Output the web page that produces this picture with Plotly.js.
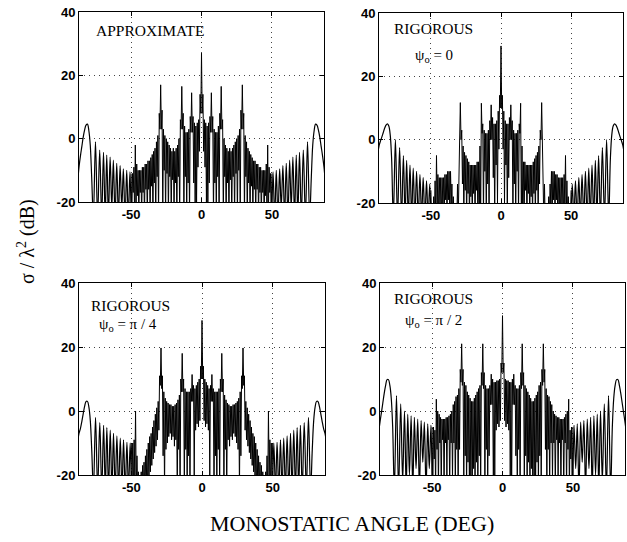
<!DOCTYPE html>
<html><head><meta charset="utf-8">
<script src="https://cdn.plot.ly/plotly-3.0.1.min.js"></script>
<style>html,body{margin:0;padding:0;background:#fff}</style>
</head><body><div id="chart" style="width:627px;height:542px"></div>
<script>
// Positive-half angles (deg) of the dense central region (pattern is symmetric about 0)
const denseAng = [0,0.5,1,1.5,2,2.5,3,3.5,4,4.5, 5,5.5,6,6.5,7,7.5,8,8.5,9,9.5,
  10,10.5,11,11.5,12,12.5,13,13.5,14,14.5, 15,15.5,16,16.5,17,17.5,18,18.5,19,19.5,
  20,20.5,21,21.5,22,22.5,23,23.5,24,24.5, 25,25.5,26,26.5,27,27.5,28,28.5,29,29.5,
  30,30.5,31,31.5,32,32.5,33,33.5,34,34.5, 35,35.5,36,36.5,37,37.5,38,38.5,39,39.5,
  40,40.5,41,41.5,42,42.5,43,43.5,44,44.5, 45,45.5,46,46.5,47,47.5,48,48.5,49,49.5, 50];
// Positive-half angles (deg) of the outer sidelobes
const outerAng = [50.0,50.8,52.0,53.1,54.3,55.5,56.6,57.8,59.0,60.2,61.4,62.6,63.7,64.9,66.1,67.3,68.4,69.6,70.9,72.3,73.8,75.3,76.8,
  78.0,79.0,80.0,81.0,82.0,83.0,84.0,85.0,86.0,87.0,88.0];

// APPROXIMATE
const approxDense = [27,8,14,-4,6,-9,5,-20,4,-25, 5,-14,7,2,14.5,2,7,-25,3,-14,
  2,-25,2,-12,4,-25,8,3,16.5,3, 6,-25,0,-12,-2,-25,-3,-14,-4,-25,
  -3,-13,-4,-25,-3,-12,-2,-25,-1,-11, 0,-25,1,-10,3,-25,9,3,17,3,
  8,-25,1,-12,-1,-25,-3,-14,-4,-25, -5,-15,-6,-25,-7,-16,-7,-25,-8,-16,
  -8,-25,-9,-17,-9,-25,-10,-17,-10,-25, -10,-18,-8,-25,-2,-25,-9,-17,-11,-25, -11];
const approxOuter = [-25,-10.5,-25,-10,-25,-9.5,-22,-8.5,-25,-7.8,-25,-6.8,-22,-5.8,-25,-5.2,-25,-4.3,-25,-3.6,-25,-1,-25,
  -12,-2,2.5,4.6,4.3,2.8,0.5,-2.5,-5.5,-9,-14];

// RIGOROUS psi0 = 0
const rig0Dense = [29.6,10,14,-3,9,-20,6,-8,5,-25, 5,-12,7,0,11,0,6,-25,3,-14,
  2,-25,2,-10,3,-25,5,2,11.5,-25, -2,-25,-7,-25,-7,-16,-8,-25,-8,-17,
  -8,-25,-8,-18,-8,-25,-7,-17,-6,-25, -5,-16,-4,-25,-2,-14,3,0,11.7,0,
  -2,-25,-14,-25,-22,-25,-22,-25,-18,-25, -14,-20,-10,-25,-10,-19,-10,-25,-11,-19,
  -11,-25,-12,-20,-12,-25,-12,-20,-12,-25, -11,-20,-5,-25,-13,-25,-18,-25,-20,-25, -16];
const rig0Outer = [-25,-14,-25,-13,-25,-12,-25,-11,-25,-10,-25,-9,-25,-8,-25,-6.5,-25,-5,-25,-2.5,-25,0,-25,
  -6,1.5,4.3,5,4.6,3.6,2.2,0.8,-0.5,-2,-5];

// RIGOROUS psi0 = pi/4
const rig4Dense = [28.3,10,14,-3,10,-5,9,-4,8,-6, 7,-20,8,3,11.4,3,7,-25,6,-14,
  6,-25,6,-12,7,-25,10,6,18,6, 10,-25,5,-12,3.5,-25,2.5,-9,2,-11,
  1.5,-8,1.5,-9,2,-7,2,-8,2.5,-10, 3,-12,4,-25,6,-14,11,7,19.7,8,
  11,-6,3,-9,1,-11,-1,-13,-3,-15, -5,-17,-7,-19,-8,-22,-10,-25,-12,-25,
  -14,-25,-16,-25,-17,-25,-19,-25,-21,-25, -19,-25,-14,-25,0,-20,-9,-25,-10,-20, -10];
const rig4Outer = [-25,-10,-25,-9.8,-25,-9,-25,-8.5,-25,-7.8,-25,-7,-25,-6,-25,-5.2,-25,-4.5,-25,-3.6,-25,-2,-25,
  -12,-3,1.2,3,3,1.5,-0.8,-3.3,-5.5,-7,-10];

// RIGOROUS psi0 = pi/2
const rig2Dense = [29.8,12,15,-3,10,-5,9.5,-4,9.5,-6, 9,-20,9,-25,10,2,11.5,2,8,-14,
  7,-25,7,-12,8,-25,12,7,21,8, 12,-25,8,-14,7,-25,6,-16,5,-25,
  4,-18,3,-25,3,-20,4,-25,5,-16, 6,-25,8,-14,9,-25,13,8,21,9,
  13,-12,7,-25,5,-12,4.5,-25,3,-10, 2,-22,0,-10,-1,-25,-1.5,-9,-2,-20,
  -2,-10,-2.5,-25,-2.5,-9,-2.5,-25,-2,-10, -1,-25,0,-12,3.7,-25,-6,-15,-5,-25, -5];
const rig2Outer = [-25,-4.5,-18,-4,-25,-3.5,-16,-3,-25,-2.5,-18,-2,-25,-1.5,-20,-1,-25,0,-22,2.2,-25,4.8,-25,
  -5,4,8,9.8,9.8,8,5.5,2.5,-0.5,-3.5,-7];

const xTickVals = [-50, 0, 50], xTickText = ['-50', '0', '50'];
const yTickVals = [-20, 0, 20, 40], yTickText = ['-20', '0', '20', '40'];
const panelLabels = ['APPROXIMATE', 'RIGOROUS', 'RIGOROUS', 'RIGOROUS'];
const psiLabels = [null, 'ψ<sub>o</sub> = 0', 'ψ<sub>o</sub> = π / 4', 'ψ<sub>o</sub> = π / 2'];
const xTitle = 'MONOSTATIC ANGLE (DEG)';
const yTitle = 'σ / λ<sup>2</sup> (dB)';

function mirrorDense(ang, val) {
  const x = [], y = [];
  for (let i = ang.length - 1; i > 0; i--) { x.push(-ang[i]); y.push(val[i]); }
  for (let i = 0; i < ang.length; i++) { x.push(ang[i]); y.push(val[i]); }
  return {x, y};
}
function mirrorOuter(ang, val) {
  const x = [], y = [];
  for (let i = ang.length - 1; i >= 0; i--) { x.push(-ang[i]); y.push(val[i]); }
  x.push(null); y.push(null);
  for (let i = 0; i < ang.length; i++) { x.push(ang[i]); y.push(val[i]); }
  return {x, y};
}

const W = 627, H = 542;
const boxes = [ // pixel boxes [left, right, top, bottom]
  [79, 324, 12, 202],
  [379, 623, 13, 203],
  [79, 325, 283, 475],
  [380, 625, 283, 475]
];
const series = [[approxDense, approxOuter], [rig0Dense, rig0Outer], [rig4Dense, rig4Outer], [rig2Dense, rig2Outer]];

const traces = [];
const layout = {
  width: W, height: H, margin: {l: 0, r: 0, t: 0, b: 0},
  paper_bgcolor: '#fff', plot_bgcolor: '#fff', showlegend: false,
  annotations: []
};
const tickFont = {family: 'Liberation Sans, Arial, sans-serif', size: 13, color: '#000', weight: 'bold'};
const serif = 'Liberation Serif, Times New Roman, serif';

series.forEach((s, k) => {
  const n = k === 0 ? '' : String(k + 1);
  const xa = 'x' + n, ya = 'y' + n;
  const d = mirrorDense(denseAng, s[0]);
  const o = mirrorOuter(outerAng, s[1]);
  traces.push({x: d.x, y: d.y, xaxis: xa, yaxis: ya, type: 'scatter', mode: 'lines',
    line: {color: '#000', width: 1}, hoverinfo: 'skip'});
  traces.push({x: o.x, y: o.y, xaxis: xa, yaxis: ya, type: 'scatter', mode: 'lines',
    line: {color: '#000', width: 1.2, shape: 'spline', smoothing: 1}, connectgaps: false, hoverinfo: 'skip'});
  const b = boxes[k];
  const common = {showgrid: true, gridcolor: '#444', griddash: '1px,4px', gridwidth: 1, zeroline: false,
    showline: true, mirror: 'ticks', linecolor: '#000', linewidth: 1, ticks: 'inside', ticklen: 4,
    tickcolor: '#000', tickfont: tickFont, fixedrange: true};
  layout['xaxis' + n] = Object.assign({}, common, {
    domain: [b[0] / W, b[1] / W], anchor: ya, range: [-87, 87],
    tickmode: 'array', tickvals: xTickVals, ticktext: xTickText});
  layout['yaxis' + n] = Object.assign({}, common, {
    domain: [1 - b[3] / H, 1 - b[2] / H], anchor: xa, range: [-20, 40],
    tickmode: 'array', tickvals: yTickVals, ticktext: yTickText});
});

const labelPos = [[94, 30], [392, 28.5], [89, 305], [392, 298]];
const psiPos = [null, [413, 56], [97, 325], [403, 321]];
panelLabels.forEach((t, k) => {
  layout.annotations.push({text: t, xref: 'paper', yref: 'paper', x: labelPos[k][0] / W, y: 1 - labelPos[k][1] / H,
    xanchor: 'left', yanchor: 'middle', showarrow: false, font: {family: serif, size: 15.5, color: '#000'}});
  if (psiLabels[k]) {
    layout.annotations.push({text: psiLabels[k], xref: 'paper', yref: 'paper', x: psiPos[k][0] / W, y: 1 - psiPos[k][1] / H,
      xanchor: 'left', yanchor: 'middle', showarrow: false, font: {family: serif, size: 15, color: '#000'}});
  }
});
layout.annotations.push({text: xTitle, xref: 'paper', yref: 'paper', x: 352 / W, y: 1 - 523 / H,
  xanchor: 'center', yanchor: 'middle', showarrow: false, font: {family: serif, size: 22, color: '#000'}});
layout.annotations.push({text: yTitle, xref: 'paper', yref: 'paper', x: 27 / W, y: 1 - 242 / H, textangle: -90,
  xanchor: 'center', yanchor: 'middle', showarrow: false, font: {family: serif, size: 20, color: '#000'}});

Plotly.newPlot('chart', traces, layout, {staticPlot: true, displayModeBar: false});
</script></body></html>
